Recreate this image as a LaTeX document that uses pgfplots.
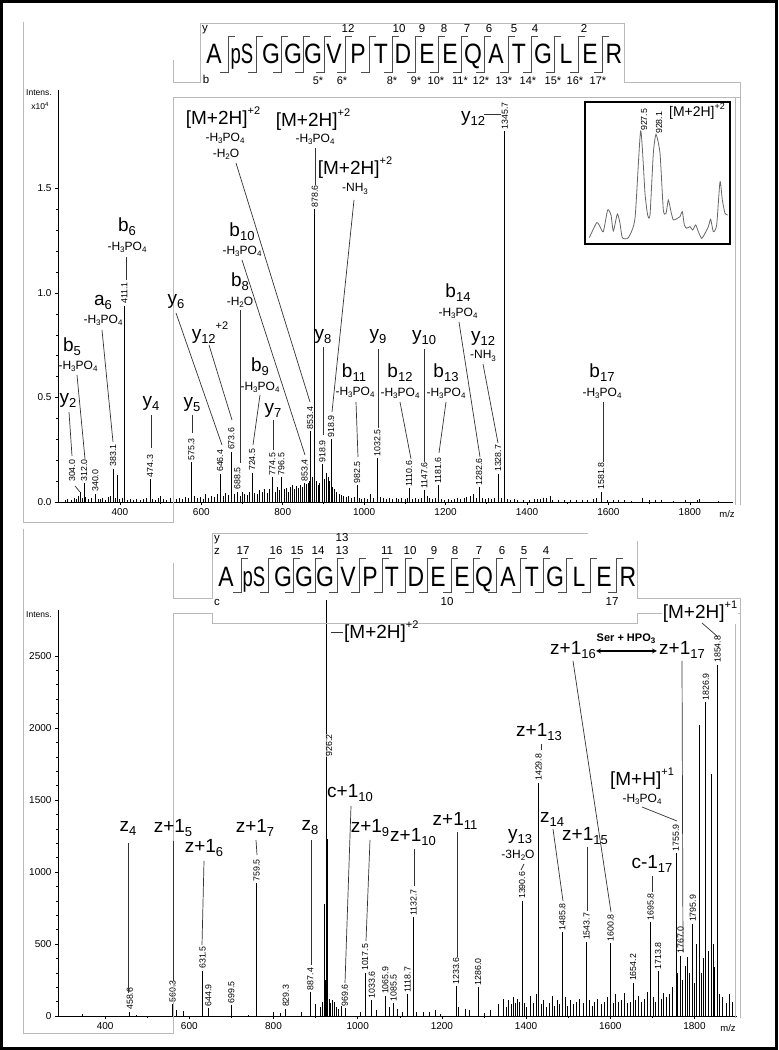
\documentclass[border=0pt]{standalone}
\usepackage{fontspec}
\setmainfont{Liberation Sans}
\usepackage{pgfplots}
\pgfplotsset{compat=1.18}
\newcommand\BF{\fontsize{19}{21}\selectfont}
\newcommand\SF{\fontsize{12}{13}\selectfont}
\newcommand\NF{\fontsize{8.8}{9}\selectfont}
\newcommand\ssb[1]{\raisebox{-0.4ex}{\fontsize{13}{13}\selectfont #1}}
\newcommand\ssp[1]{\raisebox{1.0ex}{\fontsize{11}{11}\selectfont #1}}
\newcommand\lsb[1]{\raisebox{-0.35ex}{\fontsize{8}{8}\selectfont #1}}
\newcommand\HPO{-H\lsb{3}PO\lsb{4}}
\newcommand\SQ[1]{\scalebox{0.82}[1]{\fontsize{28}{28}\selectfont #1}}
\newcommand\PS{\scalebox{0.66}[1]{\fontsize{28}{28}\selectfont pS}}
\pgfplotsset{spec/.style={scale only axis, anchor=south west, clip=false,
  axis x line=bottom, axis y line=left, axis line style={-,black,line width=0.6pt},
  tick style={black,line width=0.5pt}, tick align=outside,
  major tick length=3pt, minor tick length=2pt,
  ticklabel style={font=\fontsize{10}{10}\selectfont},
  /pgf/number format/assume math mode=true, /pgf/number format/1000 sep={},
  xtick={400,600,...,1800}, minor x tick num=1, minor y tick num=4}}
\begin{document}
\begin{tikzpicture}
\useasboundingbox (0pt,0pt) rectangle (779pt,1050pt);
% ---------------- top spectrum
\begin{axis}[spec, at={(58pt,548pt)}, width=675pt, height=412pt,
  xmin=248, xmax=1906, ymin=0, ymax=1.971,
  ytick={0,0.5,1,1.5}, yticklabels={0.0,0.5,1.0,1.5}]
\addplot[ycomb, black, line width=0.6pt, no markers] table {
x y
265 0.010
272 0.015
280 0.010
287 0.020
293 0.012
298 0.030
304.0 0.050
308 0.020
316 0.025
322 0.015
330 0.020
346 0.015
352 0.012
358 0.020
365 0.010
372 0.025
377 0.030
388 0.020
393 0.130
398 0.015
405 0.020
418 0.010
425 0.015
433 0.010
441 0.012
449 0.010
457 0.015
465 0.020
480 0.015
486 0.010
494 0.020
500 0.030
507 0.015
515 0.010
523 0.020
530 0.015
538 0.012
546 0.020
553 0.015
560 0.025
568 0.020
583 0.030
590 0.020
597 0.025
604 0.015
611 0.040
618 0.020
625 0.030
632 0.025
639 0.040
654 0.030
660 0.045
667 0.035
681 0.040
695 0.030
700 0.050
706 0.040
712 0.035
718 0.050
731 0.045
737 0.040
743 0.055
749 0.050
755 0.060
761 0.045
767 0.060
781 0.050
787 0.070
791 0.055
803 0.060
808 0.065
813 0.050
818 0.070
823 0.080
828 0.060
833 0.075
838 0.065
843 0.080
848 0.070
858 0.085
863 0.090
866 0.100
872 0.120
883 0.100
887 0.080
891 0.090
903 0.110
907 0.140
911 0.120
914 0.100
922 0.070
927 0.060
932 0.050
938 0.040
944 0.035
950 0.030
956 0.025
962 0.030
968 0.020
975 0.025
988 0.020
994 0.015
1000 0.020
1008 0.015
1015 0.040
1022 0.020
1040 0.025
1047 0.020
1055 0.015
1062 0.020
1070 0.015
1078 0.020
1085 0.015
1092 0.020
1100 0.015
1105 0.020
1118 0.015
1125 0.020
1132 0.015
1140 0.020
1155 0.030
1160 0.020
1167 0.015
1174 0.020
1190 0.015
1198 0.010
1206 0.015
1214 0.010
1222 0.015
1230 0.020
1237 0.015
1245 0.020
1252 0.025
1260 0.030
1268 0.040
1275 0.020
1290 0.020
1297 0.015
1305 0.020
1312 0.015
1320 0.020
1337 0.020
1352 0.015
1360 0.010
1368 0.012
1376 0.010
1390 0.008
1405 0.010
1418 0.012
1426 0.015
1433 0.015
1440 0.018
1448 0.020
1456 0.030
1463 0.010
1478 0.008
1492 0.010
1506 0.008
1520 0.010
1535 0.008
1548 0.010
1563 0.015
1570 0.020
1598 0.010
1612 0.008
1625 0.010
1640 0.008
1655 0.006
1683 0.020
1700 0.008
1715 0.010
1730 0.008
1760 0.006
1790 0.008
1818 0.010
1824 0.012
1870 0.005
};
\addplot[ycomb, black, line width=0.8pt, no markers, nodes near coords,
  point meta=explicit symbolic,
  every node near coord/.append style={rotate=90, anchor=west, font=\NF, inner sep=1.5pt}]
  table[meta=lab] {
x y lab
312.0 0.090 312.0
340.0 0.040 340.0
383.1 0.160 383.1
411.1 0.940 411.1
474.3 0.110 474.3
575.3 0.190 575.3
646.4 0.135 646.4
673.6 0.240 673.6
688.5 0.050 688.5
724.5 0.140 724.5
774.5 0.120 774.5
796.5 0.120 796.5
853.4 0.090 853.4
867.5 0.340 853.4
878.6 1.400 878.6
897.0 0.180 918.9
918.9 0.300 918.9
982.5 0.080 982.5
1032.5 0.210 1032.5
1110.6 0.065 1110.6
1147.6 0.056 1147.6
1181.6 0.080 1181.6
1282.6 0.070 1282.6
1328.7 0.135 1328.7
1345.7 1.775 1345.7
1581.8 0.050 1581.8
};
\end{axis}
% ---------------- inset
\begin{axis}[scale only axis, anchor=south west, at={(585pt,806pt)}, width=145pt, height=142pt,
  xmin=925.329, xmax=930.984, ymin=-19, ymax=407, hide axis]
\addplot[gray!80!black, line width=0.8pt, no markers, smooth, tension=0.35] table {
x y
925.498 0
925.784 45
925.914 33
926.044 18
926.213 83
926.343 68
926.434 20
926.590 71
926.694 43
926.785 0
927.019 0
927.279 58
927.500 320
927.669 133
927.773 68
927.864 68
927.994 253
928.098 310
928.254 253
928.384 83
928.488 73
928.579 113
928.683 78
928.774 53
928.930 58
929.034 63
929.125 78
929.203 38
929.294 28
929.424 33
929.528 23
929.645 38
929.749 18
929.879 -2
930.009 13
930.139 33
930.230 55
930.334 18
930.464 38
930.594 168
930.685 113
930.789 73
930.895 68
};
\end{axis}
% ---------------- bottom spectrum
\begin{axis}[spec, at={(58pt,34pt)}, width=679pt, height=406pt,
  xmin=288, xmax=1901, ymin=0, ymax=2819, ytick={0,500,...,2500}]
\addplot[ycomb, black, line width=0.6pt, no markers] table {
x y
345 12
475 10
570 40
585 35
740 8
800 25
815 20
865 30
900 80
910 60
916 100
921 780
924 250
926.2 2890
928 1230
932 120
935 90
940 110
945 100
950 60
955 50
960 70
1005 30
1045 40
1075 60
1095 50
1105 30
1140 25
1155 30
1170 30
1185 40
1195 15
1240 60
1255 50
1265 40
1300 20
1315 40
1335 80
1345 120
1352 60
1358 110
1365 80
1370 130
1375 90
1380 120
1385 100
1395 90
1400 60
1410 140
1418 90
1425 150
1435 80
1440 110
1448 60
1455 90
1462 140
1468 70
1475 110
1480 80
1492 130
1498 70
1505 110
1512 80
1520 100
1527 120
1535 90
1550 110
1557 70
1563 100
1570 120
1578 80
1585 100
1592 130
1607 90
1613 150
1620 100
1627 110
1634 160
1640 90
1647 100
1660 110
1667 140
1673 100
1680 120
1688 170
1702 130
1707 100
1720 120
1727 160
1733 130
1740 150
1748 200
1760 300
1772 250
1777 350
1782 410
1788 300
1800 230
1805 500
1812 2020
1815 300
1820 400
1832 450
1841 1680
1845 500
1848 340
1860 150
1866 130
1875 90
1882 150
1890 100
1897 140
};
\addplot[ycomb, black, line width=0.8pt, no markers, nodes near coords,
  point meta=explicit symbolic,
  every node near coord/.append style={rotate=90, anchor=west, font=\NF, inner sep=1.5pt}]
  table[meta=lab] {
x y lab
458.6 30 458.6
560.3 80 560.3
631.5 315 631.5
644.9 55 644.9
699.5 75 699.5
759.5 920 759.5
829.3 50 829.3
887.4 167 887.4
969.6 55 969.6
1017.5 300 1017.5
1033.6 110 1033.6
1065.9 140 1065.9
1085.5 90 1085.5
1118.7 150 1118.7
1132.7 685 1132.7
1233.6 205 1233.6
1286.0 200 1286.0
1390.6 800 1390.6
1429.8 1620 1429.8
1485.8 580 1485.8
1543.7 515 1543.7
1600.8 505 1600.8
1654.2 230 1654.2
1695.8 650 1695.8
1713.8 310 1713.8
1755.9 1130 1755.9
1767.0 420 1767.0
1795.9 640 1795.9
1826.9 2180 1826.9
1854.8 2440 1854.8
};
\end{axis}
% ---------------- decorations in pixel coordinates
\begin{scope}[x=1pt,y=-1pt,shift={(0pt,1050pt)},
  frame/.style={gray!55,line width=0.8pt},
  sep/.style={gray!60!black,line width=0.8pt},
  ld/.style={gray!40!black,line width=0.7pt}]
\draw[line width=3pt] (1.5,1.5) rectangle (776.5,1048.5);
% frames
\draw[frame] (23,22)--(23,522)--(173,522)--(173,97)--(740,97)--(740,505);
\draw[frame] (735,97)--(735,505);
\draw[frame] (173,60)--(173,82)--(200,82)--(200,23)--(624,23)--(624,82)--(740,82)--(740,97);
\draw[frame] (23,529)--(23,1033)--(173,1033)--(173,613)--(212,613)--(212,623)--(637,623)--(637,613)--(740,613)--(740,1018);
\draw[frame] (735,613)--(735,1018);
\draw[frame] (173,563)--(173,598)--(212,598)--(212,533)--(588,533);
\draw[frame] (637,541)--(637,598)--(740,598)--(740,613);
% axis captions
\node[font=\fontsize{8.5}{9}\selectfont] at (39,93) {Intens.};
\node[font=\fontsize{8.5}{9}\selectfont] at (40,106) {x10\raisebox{0.6ex}{\fontsize{6}{6}\selectfont 4}};
\node[font=\fontsize{9.5}{10}\selectfont] at (727,514) {m/z};
\node[font=\fontsize{8.5}{9}\selectfont] at (39,615) {Intens.};
\node[font=\fontsize{9.5}{10}\selectfont] at (728,1028) {m/z};
% ---- top sequence
\node[anchor=base,inner sep=0pt] at (242,64) {\PS};
\foreach \x/\l in {214/A,271/G,293/G,313/G,334/V,358/P,381/T,403/D,427/E,450/E,473/Q,496/A,519/T,543/G,566/L,590/E,614/R}
  \node[anchor=base,inner sep=0pt] at (\x,64) {\SQ{\l}};
\foreach \s in {228,256,281,303,324,345,369,392,415,438,461,484,508,531,554,578,602}
  \draw[sep] (\s+7,36)--(\s,36)--(\s,72)--(\s-8,72);
\foreach \x/\n in {348/12,399/10,422/9,444/8,467/7,489/6,514/5,535/4,584/2}
  \node[anchor=base,inner sep=0pt,font=\fontsize{11.5}{12}\selectfont] at (\x,33) {\n};
\foreach \x/\n in {318/5,342/6,392/8,416/9,436/10,460/11,481/12,504/13,528/14,553/15,575/16,598/17}
  \node[anchor=base,inner sep=0pt,font=\fontsize{11}{12}\selectfont] at (\x,85) {\n*};
\node[anchor=base,inner sep=0pt,font=\fontsize{11.5}{12}\selectfont] at (205,32) {y};
\node[anchor=base,inner sep=0pt,font=\fontsize{11.5}{12}\selectfont] at (206,84) {b};
% ---- bottom sequence
\node[anchor=base,inner sep=0pt] at (254,587) {\PS};
\foreach \x/\l in {226/A,283/G,304/G,325/G,348/V,370/P,392/T,416/D,438/E,462/E,484/Q,508/A,532/T,555/G,579/L,604/E,628/R}
  \node[anchor=base,inner sep=0pt] at (\x,587) {\SQ{\l}};
\foreach \s in {241,268,293,315,337,359,382,405,427,451,473,496,520,543,566,590,616}
  \draw[sep] (\s+7,558)--(\s,558)--(\s,592)--(\s-8,592);
\foreach \x/\n in {243/17,276/16,297/15,318/14,342/13,387/11,410/10,434/9,455/8,479/7,502/6,524/5,546/4}
  \node[anchor=base,inner sep=0pt,font=\fontsize{11.5}{12}\selectfont] at (\x,555) {\n};
\node[anchor=base,inner sep=0pt,font=\fontsize{11.5}{12}\selectfont] at (342,542) {13};
\node[anchor=base,inner sep=0pt,font=\fontsize{11.5}{12}\selectfont] at (217,542) {y};
\node[anchor=base,inner sep=0pt,font=\fontsize{11.5}{12}\selectfont] at (217,555) {z};
\node[anchor=base,inner sep=0pt,font=\fontsize{11.5}{12}\selectfont] at (217,606) {c};
\node[anchor=base,inner sep=0pt,font=\fontsize{11.5}{12}\selectfont] at (447,606) {10};
\node[anchor=base,inner sep=0pt,font=\fontsize{11.5}{12}\selectfont] at (612,606) {17};
% ---- inset
\draw[line width=2pt] (585,102) rectangle (730,244);
\node[rotate=90,anchor=west,font=\NF,inner sep=0pt] at (644,131) {927.5};
\node[rotate=90,anchor=west,font=\NF,inner sep=0pt] at (659,134) {928.1};
\node[font=\fontsize{14}{15}\selectfont] at (697,111) {[M+2H]\raisebox{0.9ex}{\fontsize{9}{9}\selectfont +2}};
% ---- top annotations
\node[rotate=90,anchor=west,font=\NF,inner sep=1pt] at (72,483) {304.0};
\draw[ld] (75,486)--(80,492);
\node at (68,400) {\BF y\ssb{2}}; \draw[ld] (69,412)--(72,456);
\node at (72,347) {\BF b\ssb{5}}; \node[font=\SF] at (78,366) {\HPO}; \draw[ld] (77,375)--(85,459);
\node at (103,302) {\BF a\ssb{6}}; \node[font=\SF] at (103,320) {\HPO}; \draw[ld] (102,330)--(113,442);
\node at (127,227) {\BF b\ssb{6}}; \node[font=\SF] at (127,247) {\HPO}; \draw[ld] (126,257)--(126,280);
\node at (151,403) {\BF y\ssb{4}}; \draw[ld] (151,415)--(151,448);
\node at (192,405) {\BF y\ssb{5}}; \draw[ld] (192,415)--(192,433);
\node at (176,302) {\BF y\ssb{6}}; \draw[ld] (176,313)--(222,445);
\node at (210,333) {\BF y\ssb{12}\ssp{+2}}; \draw[ld] (209,345)--(232,420);
\node at (223,118) {\BF [M+2H]\ssp{+2}}; \node[font=\SF] at (225,138) {\HPO}; \node[font=\SF] at (226,154) {-H\lsb{2}O};
\draw[ld] (236,163)--(310,402);
\node at (313,120) {\BF [M+2H]\ssp{+2}}; \node[font=\SF] at (315,139) {\HPO}; \draw[ld] (315,148)--(315,185);
\node at (355,168) {\BF [M+2H]\ssp{+2}}; \node[font=\SF] at (355,189) {-NH\lsb{3}}; \draw[ld] (354,200)--(332,412);
\node at (242,232) {\BF b\ssb{10}}; \node[font=\SF] at (242,251) {\HPO}; \draw[ld] (242,260)--(305,455);
\node at (240,282) {\BF b\ssb{8}}; \node[font=\SF] at (240,302) {-H\lsb{2}O}; \draw[ld] (240,310)--(240,463);
\node at (260,367) {\BF b\ssb{9}}; \node[font=\SF] at (260,387) {\HPO}; \draw[ld] (260,395)--(253,445);
\node at (273,410) {\BF y\ssb{7}}; \draw[ld] (273,420)--(273,450);
\node at (323,337) {\BF y\ssb{8}}; \draw[ld] (323,347)--(323,435);
\node at (354,373) {\BF b\ssb{11}}; \node[font=\SF] at (355,392) {\HPO}; \draw[ld] (356,402)--(358,457);
\node at (378,337) {\BF y\ssb{9}}; \draw[ld] (378,349)--(378,428);
\node at (400,373) {\BF b\ssb{12}}; \node[font=\SF] at (400,393) {\HPO}; \draw[ld] (400,402)--(411,459);
\node at (424,338) {\BF y\ssb{10}}; \draw[ld] (424,349)--(424,462);
\node at (446,373) {\BF b\ssb{13}}; \node[font=\SF] at (446,393) {\HPO}; \draw[ld] (446,402)--(439,453);
\node at (458,293) {\BF b\ssb{14}}; \node[font=\SF] at (458,313) {\HPO}; \draw[ld] (459,322)--(480,457);
\node at (483,338) {\BF y\ssb{12}}; \node[font=\SF] at (483,356) {-NH\lsb{3}}; \draw[ld] (483,364)--(498,443);
\node at (473,118) {\BF y\ssb{12}}; \draw[ld] (484,114)--(501,114);
\node at (602,373) {\BF b\ssb{17}}; \node[font=\SF] at (602,393) {\HPO}; \draw[ld] (603,402)--(603,462);
% ---- bottom annotations
\node at (128,828) {\BF z\ssb{4}}; \draw[ld] (128,843)--(128,993);
\node at (173,828) {\BF z+1\ssb{5}}; \draw[ld] (173,841)--(173,981);
\node at (204,848) {\BF z+1\ssb{6}}; \draw[ld] (204,861)--(202,945);
\node at (255,828) {\BF z+1\ssb{7}}; \draw[ld] (256,840)--(257,855);
\node at (310,828) {\BF z\ssb{8}}; \draw[ld] (311,840)--(311,965);
\node at (350,793) {\BF c+1\ssb{10}}; \draw[ld] (351,806)--(345,983);
\node at (370,828) {\BF z+1\ssb{9}}; \draw[ld] (370,840)--(366,941);
\draw[ld] (331,632)--(343,632); \node[anchor=west,inner sep=1pt] at (343,632) {\BF [M+2H]\ssp{+2}};
\node[rotate=90,anchor=west,font=\NF,inner sep=0.5pt,fill=white,fill opacity=0.6,text opacity=1] at (329,757) {926.2};
\node at (413,837) {\BF z+1\ssb{10}}; \draw[ld] (414,849)--(414,886);
\node at (455,821) {\BF z+1\ssb{11}}; \draw[ld] (457,832)--(457,957);
\node at (520,837) {\BF y\ssb{13}}; \node[font=\SF] at (518,855) {-3H\lsb{2}O}; \draw[ld] (524,864)--(521,870);
\node at (539,732) {\BF z+1\ssb{13}}; \draw[ld] (541,744)--(541,750);
\node at (552,819) {\BF z\ssb{14}}; \draw[ld] (553,829)--(563,901);
\node at (585,836) {\BF z+1\ssb{15}}; \draw[ld] (587,847)--(587,911);
\node at (573,650) {\BF z+1\ssb{16}}; \draw[ld] (573,661)--(611,912);
\node[font=\bfseries\fontsize{11}{12}\selectfont] at (626,639) {Ser + HPO\lsb{3}};
\draw[line width=1.2pt,<->,>=stealth] (596,651)--(657,651);
\node at (682,650) {\BF z+1\ssb{17}}; \draw[ld] (682,661)--(683,952);
\node at (642,779) {\BF [M+H]\ssp{+1}}; \node[font=\SF] at (642,799) {\HPO}; \draw[ld] (642,807)--(677,821);
\node at (652,864) {\BF c-1\ssb{17}}; \draw[ld] (652,876)--(652,892);
\node[fill=white,inner sep=1pt] at (700,612) {\BF [M+2H]\ssp{+1}}; \draw[ld] (702,623)--(718,637);
\end{scope}
\end{tikzpicture}
\end{document}
